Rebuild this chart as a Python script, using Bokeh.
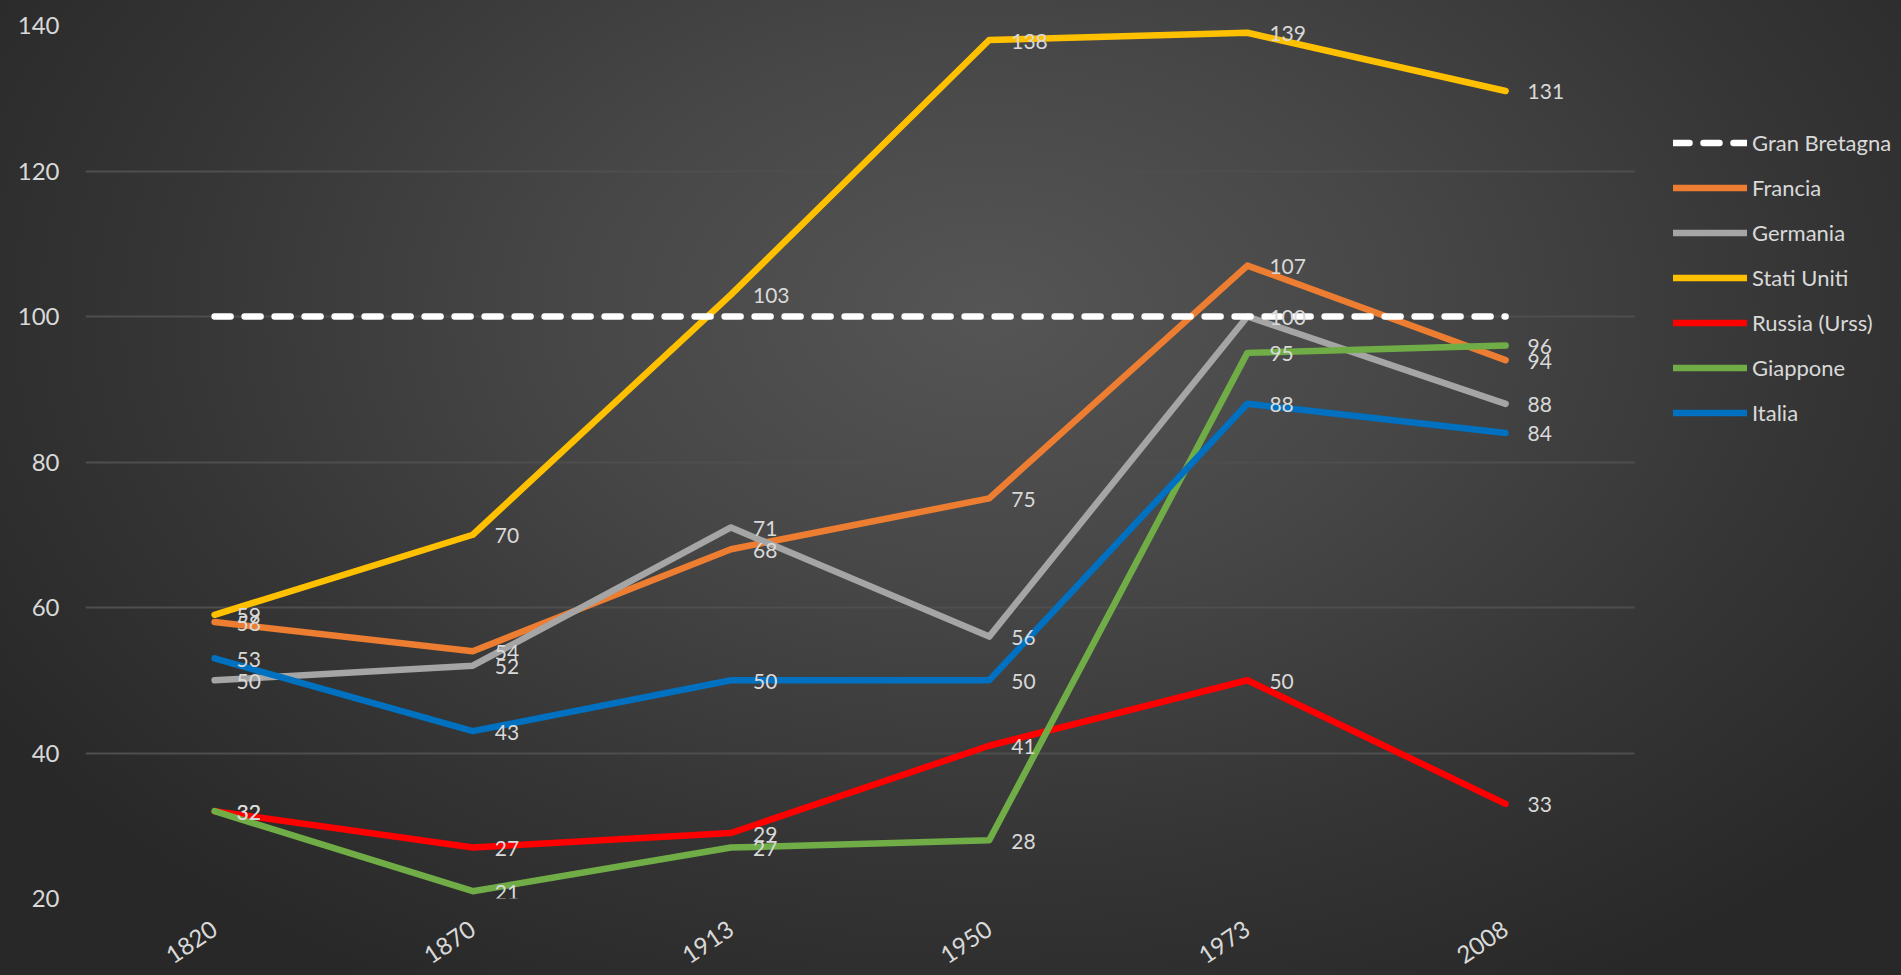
import math
from bokeh.plotting import figure
from bokeh.models import (Range1d, FixedTicker, Legend, LegendItem,
                          ColumnDataSource, GlobalInlineStyleSheet)
from bokeh.core.properties import value
from bokeh.embed import file_html
from bokeh.resources import INLINE

# ---- data ----
years = ["1820", "1870", "1913", "1950", "1973", "2008"]
gran_bretagna = [100, 100, 100, 100, 100, 100]
francia = [58, 54, 68, 75, 107, 94]
germania = [50, 52, 71, 56, 100, 88]
stati_uniti = [59, 70, 103, 138, 139, 131]
russia = [32, 27, 29, 41, 50, 33]
giappone = [32, 21, 27, 28, 95, 96]
italia = [53, 43, 50, 50, 88, 84]
y_ticks = [20, 40, 60, 80, 100, 120, 140]

series_names = ["Gran Bretagna", "Francia", "Germania", "Stati Uniti",
                "Russia (Urss)", "Giappone", "Italia"]
series_values = [gran_bretagna, francia, germania, stati_uniti,
                 russia, giappone, italia]
series_colors = ["#FFFFFF", "#ED7D31", "#A5A5A5", "#FFC000",
                 "#FF0000", "#70AD47", "#0070C0"]
series_labeled = [False, True, True, True, True, True, True]

FONT = "Lato"
TXT = "#d9d9d9"

xs = list(range(len(years)))
n = len(years)
# frame spans the whole right side (legend lives inside it); category width ~258 px
x_end = -0.5 + 1816 / 258.2

p = figure(width=1901, height=975, output_backend="svg", toolbar_location=None,
           x_range=Range1d(-0.5, x_end), y_range=Range1d(20, 140),
           min_border_left=85, min_border_right=0, min_border_top=25,
           min_border_bottom=77,
           background_fill_alpha=0, border_fill_alpha=0, outline_line_color=None,
           styles={"background": "radial-gradient(ellipse 62% 80% at 52% 32%, #555555 0%, #474747 35%, #353535 70%, #282828 100%)"},
           stylesheets=[GlobalInlineStyleSheet(css="html, body { background: #292929; }")])

# grid
p.xgrid.visible = False
p.ygrid.ticker = FixedTicker(ticks=y_ticks)
p.ygrid.grid_line_color = "#4e4e4e"
p.ygrid.grid_line_width = 2
p.ygrid.cross_bounds = (-0.5, n - 0.5)

# axes
for ax in (p.xaxis[0], p.yaxis[0]):
    ax.axis_line_color = None
    ax.major_tick_line_color = None
    ax.minor_tick_line_color = None
    ax.major_tick_in = 0
    ax.major_tick_out = 0
    ax.major_label_text_font = FONT
    ax.major_label_text_font_size = "24px"
    ax.major_label_text_color = TXT

p.yaxis.ticker = FixedTicker(ticks=y_ticks)
p.yaxis.major_label_standoff = 26
p.xaxis.ticker = FixedTicker(ticks=xs)
p.xaxis.major_label_overrides = {i: y for i, y in enumerate(years)}
p.xaxis.major_label_orientation = math.radians(34)
p.xaxis.major_label_standoff = 28

# lines (Gran Bretagna drawn last, on top)
renderers = {}
order = [1, 2, 3, 4, 5, 6, 0]
for i in order:
    name, vals, col = series_names[i], series_values[i], series_colors[i]
    src = ColumnDataSource(dict(x=xs, y=vals))
    kw = dict(line_color=col, line_width=6.5, line_cap="round", line_join="round")
    if i == 0:
        kw["line_dash"] = "16 14"
    renderers[i] = p.line("x", "y", source=src, **kw)

for i in order:
    if not series_labeled[i]:
        continue
    vals = series_values[i]
    src = ColumnDataSource(dict(x=xs, y=vals, t=[str(v) for v in vals]))
    p.text("x", "y", text="t", source=src, x_offset=22, y_offset=1,
           text_align="left", text_baseline="middle",
           text_font=value(FONT), text_font_size="21px", text_color=TXT)

items = [LegendItem(label=series_names[i], renderers=[renderers[i]])
         for i in range(len(series_names))]
legend = Legend(items=items, location=(1588, 472), orientation="vertical",
                glyph_width=74, glyph_height=27, label_height=27, spacing=18,
                padding=0, margin=0, label_standoff=5,
                background_fill_alpha=0, border_line_color=None,
                label_text_font=FONT, label_text_font_size="22px",
                label_text_color=TXT, label_text_baseline="middle")
p.add_layout(legend)

open("out.html", "w").write(file_html(p, INLINE))
